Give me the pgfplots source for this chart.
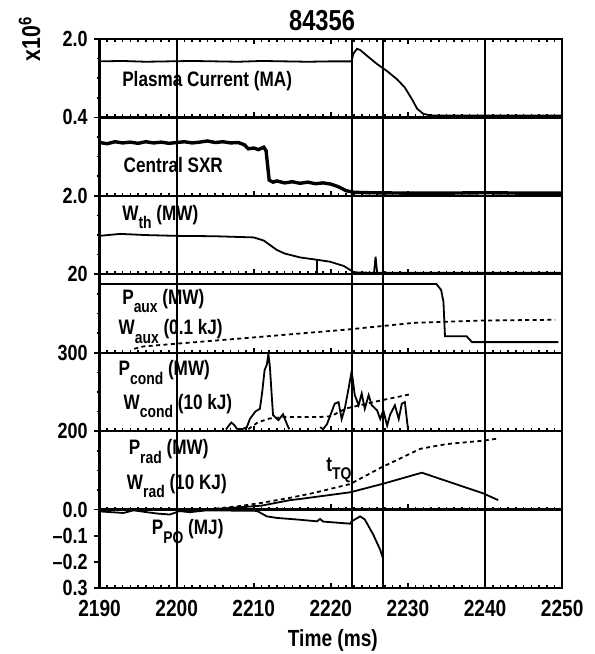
\documentclass[border=0pt]{standalone}
\usepackage{fontspec}
\setmainfont{Liberation Sans}[FakeStretch=0.82]
\usepackage{pgfplots}
\pgfplotsset{compat=1.18}
\usepgfplotslibrary{groupplots}
\newcommand{\lab}{\fontsize{10.5}{12}\selectfont\bfseries}
\newcommand{\sub}[1]{\raisebox{-4.2bp}{\fontsize{8.5}{9}\selectfont\bfseries #1}}
\tikzset{wdash/.style={dash pattern=on 2bp off 1.7bp}}

\begin{document}
\begin{tikzpicture}
\begin{groupplot}[
  group style={group size=1 by 7, vertical sep=0pt, xticklabels at=edge bottom},
  width=231.25bp, height=39.2bp, scale only axis,
  xmin=2190, xmax=2250, ymin=0, ymax=2,
  xtick={2190,2200,...,2250}, minor x tick num=9,
  xtick pos=bottom, ytick pos=left, ytick={0}, minor ytick={0.5,1,1.5},
  tick align=inside,
  major tick length=2.6bp, minor tick length=1.5bp,
  every tick/.append style={black, line width=0.8bp},
  major y tick style={xshift=-2.6bp},
  minor y tick style={xshift=-1.5bp},
  axis line style={line width=1.1bp},
  extra x ticks={2200,2222.8,2226.8,2240}, extra x tick labels={},
  extra x tick style={grid=major},
  major grid style={black, line width=1bp},
  /pgf/number format/1000 sep={},
  /pgf/number format/assume math mode=true,
  xticklabel style={font=\fontsize{11.7}{12}\selectfont\bfseries, yshift=-2.8bp},
  yticklabel style={font=\fontsize{11}{12}\selectfont\bfseries, xshift=-2.4bp},
]
% Plasma current
\nextgroupplot[xtick pos=both, ytick={0,2}, yticklabels={0.4,2.0}]
\addplot[black, line width=0.9bp] coordinates {
  (2190,1.43)(2193,1.44)(2196,1.42)(2199,1.43)(2202,1.44)(2205,1.43)(2208,1.42)
  (2211,1.44)(2214,1.43)(2217,1.42)(2220,1.43)(2222.7,1.43)(2222.9,1.62)(2223.4,1.75)
  (2223.8,1.72)(2224.7,1.57)(2226.0,1.36)(2227.3,1.18)(2228.6,0.97)(2229.6,0.76)
  (2230.5,0.47)(2231.2,0.22)(2232.0,0.09)(2233,0.05)(2250,0.05)};
\node[anchor=base west, font=\lab] at (rel axis cs:0.034,0.40) {Plasma Current (MA)};

% Central SXR
\nextgroupplot[yticklabels={2.0}]
\addplot[black, line width=1.7bp] coordinates {
  (2190,1.36)(2191,1.33)(2192,1.38)(2193,1.35)(2194,1.37)(2195,1.34)(2196,1.38)
  (2197,1.35)(2198,1.37)(2199,1.34)(2200,1.36)(2201,1.38)(2202,1.35)(2203,1.37)
  (2204,1.40)(2205,1.36)(2206,1.38)(2207,1.35)(2208,1.36)(2208.8,1.30)(2209.3,1.20)
  (2210,1.22)(2210.6,1.18)(2211.3,1.24)(2211.6,1.15)(2212,0.40)(2212.5,0.35)
  (2213,0.38)(2214,0.33)(2215,0.36)(2216,0.32)(2217,0.35)(2218,0.31)(2219,0.33)
  (2220,0.30)(2221,0.23)(2222,0.13)(2223,0.09)(2225,0.08)(2230,0.07)(2235,0.07)
  (2240,0.08)(2245,0.07)(2250,0.07)};
\node[anchor=base west, font=\lab] at (rel axis cs:0.037,0.30) {Central SXR};

% W_th
\nextgroupplot[yticklabels={20}]
\addplot[black, line width=0.9bp] coordinates {
  (2190,0.98)(2192.7,1.03)(2196,1.00)(2200,0.98)(2205,0.97)(2210,0.94)(2211.3,0.86)
  (2212,0.76)(2213,0.62)(2214,0.53)(2216,0.43)(2218.2,0.37)(2219.9,0.32)(2221.7,0.21)
  (2222.5,0.11)(2223,0.05)(2225,0.04)(2250,0.04)};
\addplot[black, line width=0.9bp] coordinates {(2218.2,0.04)(2218.2,0.37)};
\addplot[black, line width=0.9bp] coordinates {(2225.6,0.04)(2225.8,0.45)(2226.0,0.04)};
\node[anchor=base west, font=\lab] at (rel axis cs:0.034,0.69) {W\sub{th} (MW)};

% P_aux, W_aux
\nextgroupplot[yticklabels={300}]
\addplot[black, line width=0.9bp] coordinates {
  (2190,1.75)(2233.7,1.75)(2234.3,1.60)(2234.6,1.30)(2234.8,0.42)(2237.6,0.42)
  (2238.3,0.27)(2249.5,0.27)};
\addplot[black, line width=0.9bp, wdash] coordinates {
  (2194.5,0.10)(2195.7,0.16)(2200,0.23)(2205,0.31)(2210,0.39)(2216,0.49)
  (2222.1,0.59)(2230.7,0.76)(2239.4,0.82)(2249.1,0.84)};
\node[anchor=base west, font=\lab] at (rel axis cs:0.034,0.62) {P\sub{aux} (MW)};
\node[anchor=base west, font=\lab] at (rel axis cs:0.026,0.23) {W\sub{aux} (0.1 kJ)};

% P_cond, W_cond
\nextgroupplot[yticklabels={200}]
\addplot[black, line width=0.9bp] coordinates {
  (2206.4,0.04)(2206.8,0.15)(2207.1,0.22)(2207.5,0.15)(2207.8,0.06)(2208.5,0.05)
  (2209.1,0.10)(2209.5,0.31)(2210.2,0.50)(2210.8,0.57)(2211.1,1.00)(2211.4,1.55)
  (2211.7,1.70)(2211.9,1.97)(2212.1,1.62)(2212.3,1.00)(2212.5,0.41)(2213.2,0.28)
  (2213.8,0.43)(2214.3,0.18)(2214.6,0.05)};
\addplot[black, line width=0.9bp] coordinates {
  (2218.6,0.10)(2219.0,0.05)(2219.5,0.18)(2220.5,0.70)(2221.0,0.74)(2221.4,0.31)
  (2221.8,0.57)(2222.3,1.09)(2222.7,1.53)(2223.1,0.92)(2223.6,0.66)(2224.0,0.96)
  (2224.4,0.57)(2224.9,0.92)(2225.3,0.66)(2226.0,0.53)(2226.4,0.31)(2226.8,0.53)
  (2227.3,0.14)(2227.7,0.43)(2228.3,0.66)(2228.8,0.31)(2229.2,0.70)(2229.6,0.74)
  (2229.9,0.22)(2230.0,0.07)};
\addplot[black, line width=0.9bp, wdash] coordinates {
  (2209.3,0.05)(2210.5,0.22)(2212,0.32)(2214,0.36)(2218.5,0.36)(2220,0.38)
  (2222,0.58)(2226.4,0.78)(2230.3,0.94)};
\node[anchor=base west, font=\lab] at (rel axis cs:0.026,0.705) {P\sub{cond} (MW)};
\node[anchor=base west, font=\lab] at (rel axis cs:0.037,0.28) {W\sub{cond} (10 kJ)};

% P_rad, W_rad
\nextgroupplot[yticklabels={0.0}]
\addplot[black, line width=0.9bp] coordinates {
  (2203.5,0.0)(2207,0.04)(2211,0.10)(2214.7,0.24)(2216,0.27)(2222.5,0.44)
  (2226.8,0.66)(2231.8,0.94)(2239.8,0.41)(2241.7,0.24)};
\addplot[black, line width=0.9bp, wdash] coordinates {
  (2204,0.0)(2208.2,0.09)(2211,0.17)(2214.7,0.30)(2217.7,0.42)(2222.5,0.65)
  (2226.4,1.06)(2231.6,1.55)(2235,1.67)(2239.4,1.75)(2241.7,1.81)};
\node[anchor=base west, font=\lab] at (rel axis cs:0.048,0.70) {P\sub{rad} (MW)};
\node[anchor=base west, font=\lab] at (rel axis cs:0.044,0.26) {W\sub{rad} (10 KJ)};
\node[anchor=base west, font=\lab] at (rel axis cs:0.475,0.49) {t\sub{TQ}};

% P_PO
\nextgroupplot[ymin=-0.3, ymax=0, ytick={-0.3,-0.2,-0.1}, yticklabels={0.3,--0.2,--0.1}, minor ytick={}]
\addplot[black, line width=0.9bp] coordinates {
  (2190,-0.007)(2193.1,-0.013)(2194.4,-0.003)(2197.4,-0.015)(2199.1,-0.019)
  (2200.4,-0.006)(2201.7,-0.010)(2203.9,-0.003)(2210.4,-0.005)(2211.7,-0.026)
  (2213,-0.032)(2215.6,-0.038)(2218.2,-0.045)(2218.6,-0.036)(2219,-0.046)
  (2222.5,-0.054)(2222.7,-0.045)(2223.1,-0.038)(2223.8,-0.026)(2224.4,-0.038)
  (2225.5,-0.096)(2226.4,-0.154)(2226.8,-0.190)};
\node[anchor=base west, font=\lab] at (rel axis cs:0.098,0.68) {P\sub{PO} (MJ)};
\end{groupplot}

\node[anchor=base, font=\fontsize{14.5}{15}\selectfont\bfseries]
  at ([xshift=-4.4bp, yshift=4.5bp]group c1r1.north) {84356};
\node[rotate=90, anchor=base, font=\fontsize{13}{13}\selectfont\bfseries]
  at ([xshift=-29.75bp]group c1r1.north west) {x10\textsuperscript{6}};
\node[anchor=base, font=\fontsize{11.7}{12}\selectfont\bfseries]
  at ([xshift=1bp, yshift=-29.2bp]group c1r7.south) {Time (ms)};

\pgfresetboundingbox
\path[use as bounding box] ([shift={(-49.75bp,19.5bp)}]group c1r1.north west)
  rectangle ([shift={(16bp,-33bp)}]group c1r7.south east);
\end{tikzpicture}
\end{document}
